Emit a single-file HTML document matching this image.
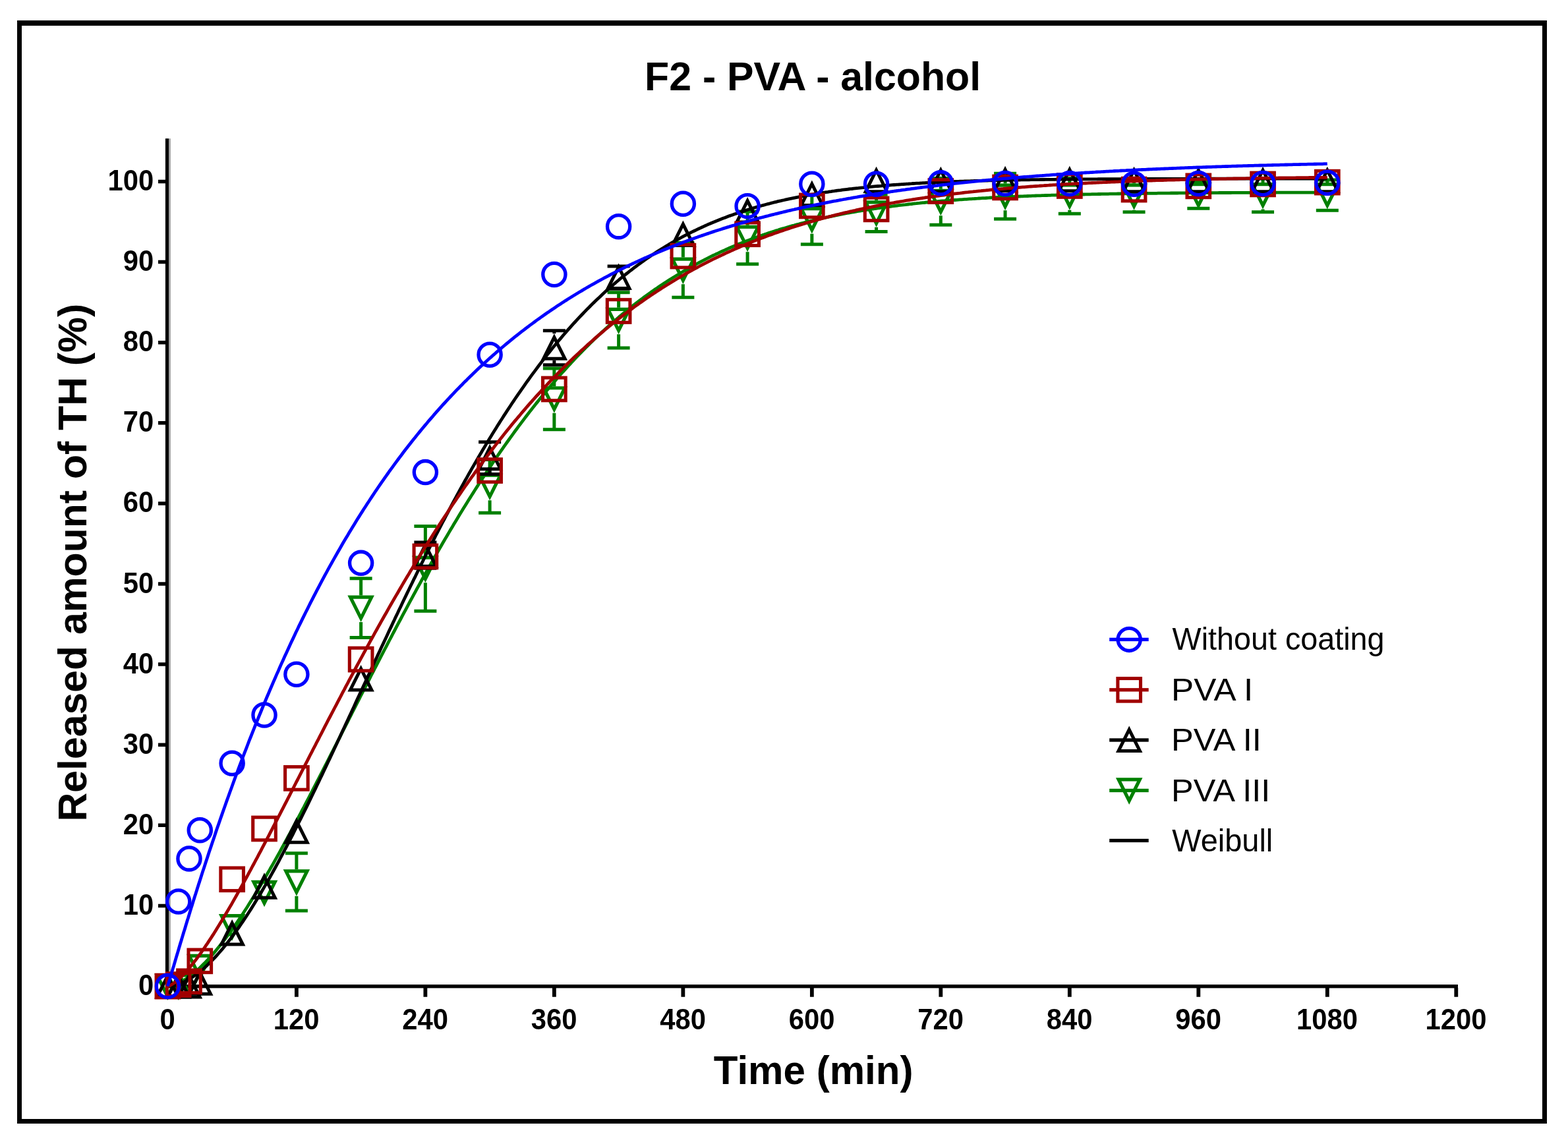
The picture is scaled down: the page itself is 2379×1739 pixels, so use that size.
<!DOCTYPE html>
<html><head><meta charset="utf-8"><title>F2 - PVA - alcohol</title>
<style>
html,body{margin:0;padding:0;background:#fff;overflow:hidden;}
svg{display:block;}
text{font-family:"Liberation Sans",Arial,sans-serif;fill:#000;}
</style></head><body>
<svg width="2379" height="1739" viewBox="0 0 2379 1739">
<rect x="0" y="0" width="2379" height="1739" fill="#fff"/>
<path d="M26 31H2347V1705H26ZM33 39V1698H2340V39Z" fill="#000" fill-rule="evenodd"/>
<text transform="translate(978.07 136.90) scale(0.9807 1)" font-size="62.00" font-weight="bold">F2 - PVA - alcohol</text>
<rect x="250.9" y="210.2" width="5.1" height="1289.2" fill="#000"/>
<rect x="256" y="210.2" width="2.8" height="1283.8" fill="#a0a0a0"/>
<rect x="250.9" y="1494.0" width="1961.1" height="5.4" fill="#000"/>
<path d="M240 1371.73H251V1377.23H240ZM240 1249.61H251V1255.11H240ZM240 1127.49H251V1132.99H240ZM240 1005.37H251V1010.87H240ZM240 883.25H251V888.75H240ZM240 761.13H251V766.63H240ZM240 639.01H251V644.51H240ZM240 516.89H251V522.39H240ZM240 394.77H251V400.27H240ZM240 272.65H251V278.15H240ZM446.99 1499V1512.7H452.79V1499ZM642.48 1499V1512.7H648.28V1499ZM837.97 1499V1512.7H843.77V1499ZM1033.46 1499V1512.7H1039.26V1499ZM1228.95 1499V1512.7H1234.75V1499ZM1424.44 1499V1512.7H1430.24V1499ZM1619.93 1499V1512.7H1625.73V1499ZM1815.42 1499V1512.7H1821.22V1499ZM2010.91 1499V1512.7H2016.71V1499ZM2206.40 1499V1512.7H2212.20V1499Z" fill="#000"/>
<text transform="translate(233.2 1510.10) scale(0.9610 1)" font-size="43.50" font-weight="bold" text-anchor="end">0</text>
<text transform="translate(233.2 1387.98) scale(0.9610 1)" font-size="43.50" font-weight="bold" text-anchor="end">10</text>
<text transform="translate(233.2 1265.86) scale(0.9610 1)" font-size="43.50" font-weight="bold" text-anchor="end">20</text>
<text transform="translate(233.2 1143.74) scale(0.9610 1)" font-size="43.50" font-weight="bold" text-anchor="end">30</text>
<text transform="translate(233.2 1021.62) scale(0.9610 1)" font-size="43.50" font-weight="bold" text-anchor="end">40</text>
<text transform="translate(233.2 899.50) scale(0.9610 1)" font-size="43.50" font-weight="bold" text-anchor="end">50</text>
<text transform="translate(233.2 777.38) scale(0.9610 1)" font-size="43.50" font-weight="bold" text-anchor="end">60</text>
<text transform="translate(233.2 655.26) scale(0.9610 1)" font-size="43.50" font-weight="bold" text-anchor="end">70</text>
<text transform="translate(233.2 533.14) scale(0.9610 1)" font-size="43.50" font-weight="bold" text-anchor="end">80</text>
<text transform="translate(233.2 411.02) scale(0.9610 1)" font-size="43.50" font-weight="bold" text-anchor="end">90</text>
<text transform="translate(233.2 288.90) scale(0.9610 1)" font-size="43.50" font-weight="bold" text-anchor="end">100</text>
<text transform="translate(254.10 1561.8) scale(0.9610 1)" font-size="43.50" font-weight="bold" text-anchor="middle">0</text>
<text transform="translate(449.59 1561.8) scale(0.9610 1)" font-size="43.50" font-weight="bold" text-anchor="middle">120</text>
<text transform="translate(645.08 1561.8) scale(0.9610 1)" font-size="43.50" font-weight="bold" text-anchor="middle">240</text>
<text transform="translate(840.57 1561.8) scale(0.9610 1)" font-size="43.50" font-weight="bold" text-anchor="middle">360</text>
<text transform="translate(1036.06 1561.8) scale(0.9610 1)" font-size="43.50" font-weight="bold" text-anchor="middle">480</text>
<text transform="translate(1231.55 1561.8) scale(0.9610 1)" font-size="43.50" font-weight="bold" text-anchor="middle">600</text>
<text transform="translate(1427.04 1561.8) scale(0.9610 1)" font-size="43.50" font-weight="bold" text-anchor="middle">720</text>
<text transform="translate(1622.53 1561.8) scale(0.9610 1)" font-size="43.50" font-weight="bold" text-anchor="middle">840</text>
<text transform="translate(1818.02 1561.8) scale(0.9610 1)" font-size="43.50" font-weight="bold" text-anchor="middle">960</text>
<text transform="translate(2013.51 1561.8) scale(0.9610 1)" font-size="43.50" font-weight="bold" text-anchor="middle">1080</text>
<text transform="translate(2209.00 1561.8) scale(0.9610 1)" font-size="43.50" font-weight="bold" text-anchor="middle">1200</text>
<text transform="translate(1082.81 1644.50) scale(0.9693 1)" font-size="62.00" font-weight="bold">Time (min)</text>
<text transform="translate(131.10 1246.55) rotate(-90) scale(0.9872 1)" font-size="61.50" font-weight="bold">Released amount of TH (%)</text>
<polyline points="254.4,1496.6 255.2,1496.6 256.0,1496.5 256.8,1496.4 257.7,1496.3 258.5,1496.1 259.3,1496.0 260.1,1495.8 260.9,1495.6 261.7,1495.4 262.5,1495.1 263.4,1494.9 264.2,1494.6 265.0,1494.3 265.8,1494.0 266.6,1493.7 267.4,1493.4 268.2,1493.1 269.1,1492.7 269.9,1492.3 270.7,1492.0 271.5,1491.6 272.3,1491.2 273.1,1490.8 273.9,1490.3 274.8,1489.9 275.6,1489.5 276.4,1489.0 277.2,1488.5 278.0,1488.1 278.8,1487.6 279.7,1487.1 280.5,1486.6 281.3,1486.0 282.1,1485.5 282.9,1485.0 283.7,1484.4 284.5,1483.9 285.4,1483.3 286.2,1482.7 287.0,1482.1 287.8,1481.5 288.6,1480.9 289.4,1480.3 290.2,1479.7 291.1,1479.0 291.9,1478.4 292.7,1477.7 293.5,1477.1 294.3,1476.4 295.1,1475.7 295.9,1475.0 296.8,1474.3 297.6,1473.6 298.4,1472.9 299.2,1472.2 300.0,1471.5 300.8,1470.7 301.6,1470.0 302.5,1469.2 303.3,1468.5 304.9,1466.9 307.3,1464.5 309.8,1462.1 312.2,1459.6 314.7,1457.0 317.1,1454.4 319.6,1451.7 322.0,1448.9 324.5,1446.1 326.9,1443.2 329.3,1440.3 331.8,1437.3 334.2,1434.2 336.7,1431.1 339.1,1428.0 341.6,1424.8 344.0,1421.5 346.5,1418.2 348.9,1414.9 351.4,1411.5 353.8,1408.0 356.2,1404.6 358.7,1401.0 361.1,1397.5 363.6,1393.8 366.0,1390.2 368.5,1386.5 370.9,1382.8 373.4,1379.0 375.8,1375.2 378.2,1371.3 380.7,1367.4 383.1,1363.5 385.6,1359.6 388.0,1355.6 390.5,1351.6 392.9,1347.5 395.4,1343.4 397.8,1339.3 400.2,1335.2 402.7,1331.0 405.1,1326.8 407.6,1322.6 410.0,1318.3 412.5,1314.1 414.9,1309.8 417.4,1305.4 419.8,1301.1 422.3,1296.7 424.7,1292.3 427.1,1287.9 429.6,1283.4 432.0,1279.0 434.5,1274.5 436.9,1270.0 439.4,1265.5 441.8,1260.9 444.3,1256.4 446.7,1251.8 449.1,1247.2 451.6,1242.6 454.0,1238.0 456.5,1233.4 458.9,1228.7 461.4,1224.1 463.8,1219.4 466.3,1214.7 468.7,1210.0 471.1,1205.3 473.6,1200.6 476.0,1195.9 478.5,1191.1 480.9,1186.4 483.4,1181.6 485.8,1176.9 488.3,1172.1 490.7,1167.3 493.1,1162.6 495.6,1157.8 498.0,1153.0 500.5,1148.2 502.9,1143.4 505.4,1138.6 507.8,1133.8 510.3,1129.0 512.7,1124.2 515.2,1119.4 517.6,1114.5 520.0,1109.7 522.5,1104.9 524.9,1100.1 527.4,1095.3 529.8,1090.5 532.3,1085.6 534.7,1080.8 537.2,1076.0 539.6,1071.2 542.0,1066.4 544.5,1061.6 546.9,1056.8 549.4,1052.0 551.8,1047.2 554.3,1042.4 556.7,1037.7 559.2,1032.9 561.6,1028.1 564.0,1023.3 566.5,1018.6 568.9,1013.8 571.4,1009.1 573.8,1004.4 576.3,999.6 578.7,994.9 581.2,990.2 583.6,985.5 586.1,980.8 588.5,976.1 590.9,971.5 593.4,966.8 595.8,962.1 598.3,957.5 600.7,952.9 603.2,948.2 605.6,943.6 608.1,939.0 610.5,934.4 612.9,929.9 615.4,925.3 617.8,920.8 620.3,916.2 622.7,911.7 625.2,907.2 627.6,902.7 630.1,898.2 632.5,893.7 634.9,889.3 637.4,884.8 639.8,880.4 642.3,876.0 644.7,871.6 647.2,867.2 649.6,862.9 652.1,858.5 654.5,854.2 657.0,849.9 659.4,845.6 661.8,841.3 664.3,837.0 666.7,832.8 669.2,828.5 671.6,824.3 674.1,820.1 676.5,815.9 679.0,811.8 681.4,807.6 683.8,803.5 686.3,799.4 688.7,795.3 691.2,791.2 693.6,787.2 696.1,783.1 698.5,779.1 701.0,775.1 703.4,771.1 705.8,767.2 708.3,763.2 710.7,759.3 713.2,755.4 715.6,751.5 718.1,747.6 720.5,743.8 723.0,739.9 725.4,736.1 727.8,732.3 730.3,728.6 732.7,724.8 735.2,721.1 737.6,717.4 740.1,713.7 742.5,710.0 745.0,706.4 747.4,702.7 749.9,699.1 752.3,695.5 754.7,692.0 757.2,688.4 759.6,684.9 762.1,681.4 764.5,677.9 767.0,674.4 769.4,671.0 771.9,667.5 774.3,664.1 776.7,660.8 779.2,657.4 781.6,654.0 784.1,650.7 786.5,647.4 789.0,644.1 791.4,640.9 793.9,637.6 796.3,634.4 798.7,631.2 801.2,628.0 803.6,624.9 806.1,621.7 808.5,618.6 811.0,615.5 813.4,612.4 815.9,609.4 818.3,606.3 820.8,603.3 823.2,600.3 825.6,597.4 828.1,594.4 830.5,591.5 833.0,588.6 835.4,585.7 837.9,582.8 840.3,580.0 842.8,577.1 845.2,574.3 847.6,571.5 850.1,568.7 852.5,566.0 855.0,563.3 857.4,560.6 859.9,557.9 862.3,555.2 864.8,552.5 867.2,549.9 869.6,547.3 872.1,544.7 874.5,542.1 877.0,539.6 879.4,537.1 881.9,534.5 884.3,532.1 886.8,529.6 889.2,527.1 891.6,524.7 894.1,522.3 896.5,519.9 899.0,517.5 901.4,515.1 903.9,512.8 906.3,510.5 908.8,508.2 911.2,505.9 913.7,503.6 916.1,501.4 918.5,499.2 921.0,497.0 923.4,494.8 925.9,492.6 928.3,490.4 930.8,488.3 933.2,486.2 935.7,484.1 938.1,482.0 940.5,479.9 943.0,477.9 945.4,475.9 947.9,473.8 950.3,471.8 952.8,469.9 955.2,467.9 957.7,466.0 960.1,464.0 962.5,462.1 965.0,460.2 967.4,458.4 969.9,456.5 972.3,454.7 974.8,452.8 977.2,451.0 979.7,449.2 982.1,447.5 984.6,445.7 987.0,444.0 989.4,442.2 991.9,440.5 994.3,438.8 996.8,437.2 999.2,435.5 1001.7,433.8 1004.1,432.2 1006.6,430.6 1009.0,429.0 1011.4,427.4 1013.9,425.8 1016.3,424.3 1018.8,422.7 1021.2,421.2 1023.7,419.7 1026.1,418.2 1028.6,416.7 1031.0,415.2 1033.4,413.8 1035.9,412.3 1038.3,410.9 1040.8,409.5 1043.2,408.1 1045.7,406.7 1048.1,405.3 1050.6,404.0 1053.0,402.6 1055.5,401.3 1057.9,400.0 1060.3,398.7 1062.8,397.4 1065.2,396.1 1067.7,394.9 1070.1,393.6 1072.6,392.4 1075.0,391.2 1077.5,389.9 1079.9,388.7 1082.3,387.5 1084.8,386.4 1087.2,385.2 1089.7,384.1 1092.1,382.9 1094.6,381.8 1097.0,380.7 1099.5,379.6 1101.9,378.5 1104.3,377.4 1106.8,376.3 1109.2,375.3 1111.7,374.2 1114.1,373.2 1116.6,372.2 1119.0,371.1 1121.5,370.1 1123.9,369.2 1126.3,368.2 1128.8,367.2 1131.2,366.2 1133.7,365.3 1136.1,364.4 1138.6,363.4 1141.0,362.5 1143.5,361.6 1145.9,360.7 1148.4,359.8 1150.8,358.9 1153.2,358.1 1155.7,357.2 1158.1,356.4 1160.6,355.5 1163.0,354.7 1165.5,353.9 1167.9,353.1 1170.4,352.3 1172.8,351.5 1175.2,350.7 1177.7,349.9 1180.1,349.2 1182.6,348.4 1185.0,347.6 1187.5,346.9 1189.9,346.2 1192.4,345.5 1194.8,344.7 1197.2,344.0 1199.7,343.3 1202.1,342.6 1204.6,342.0 1207.0,341.3 1209.5,340.6 1211.9,340.0 1214.4,339.3 1216.8,338.7 1219.3,338.0 1221.7,337.4 1224.1,336.8 1226.6,336.2 1229.0,335.6 1231.5,335.0 1233.9,334.4 1236.4,333.8 1238.8,333.2 1241.3,332.7 1243.7,332.1 1246.1,331.6 1248.6,331.0 1251.0,330.5 1253.5,329.9 1255.9,329.4 1258.4,328.9 1260.8,328.4 1263.3,327.9 1265.7,327.4 1268.1,326.9 1270.6,326.4 1273.0,325.9 1275.5,325.4 1277.9,324.9 1280.4,324.5 1282.8,324.0 1285.3,323.5 1287.7,323.1 1290.1,322.7 1292.6,322.2 1295.0,321.8 1297.5,321.4 1299.9,320.9 1302.4,320.5 1304.8,320.1 1307.3,319.7 1309.7,319.3 1312.2,318.9 1314.6,318.5 1317.0,318.1 1319.5,317.8 1321.9,317.4 1324.4,317.0 1326.8,316.7 1329.3,316.3 1331.7,315.9 1334.2,315.6 1336.6,315.2 1339.0,314.9 1341.5,314.6 1343.9,314.2 1346.4,313.9 1348.8,313.6 1351.3,313.3 1353.7,312.9 1356.2,312.6 1358.6,312.3 1361.0,312.0 1363.5,311.7 1365.9,311.4 1368.4,311.1 1370.8,310.8 1373.3,310.6 1375.7,310.3 1378.2,310.0 1380.6,309.7 1383.1,309.5 1385.5,309.2 1387.9,308.9 1390.4,308.7 1392.8,308.4 1395.3,308.2 1397.7,307.9 1400.2,307.7 1402.6,307.5 1405.1,307.2 1407.5,307.0 1409.9,306.8 1412.4,306.5 1414.8,306.3 1417.3,306.1 1419.7,305.9 1422.2,305.7 1424.6,305.4 1427.1,305.2 1429.5,305.0 1431.9,304.8 1434.4,304.6 1436.8,304.4 1439.3,304.2 1441.7,304.0 1444.2,303.9 1446.6,303.7 1449.1,303.5 1451.5,303.3 1454.0,303.1 1456.4,302.9 1458.8,302.8 1461.3,302.6 1463.7,302.4 1466.2,302.3 1468.6,302.1 1471.1,301.9 1473.5,301.8 1476.0,301.6 1478.4,301.5 1480.8,301.3 1483.3,301.2 1485.7,301.0 1488.2,300.9 1490.6,300.7 1493.1,300.6 1495.5,300.5 1498.0,300.3 1500.4,300.2 1502.8,300.0 1505.3,299.9 1507.7,299.8 1510.2,299.7 1512.6,299.5 1515.1,299.4 1517.5,299.3 1520.0,299.2 1522.4,299.1 1524.8,298.9 1527.3,298.8 1529.7,298.7 1532.2,298.6 1534.6,298.5 1537.1,298.4 1539.5,298.3 1542.0,298.2 1544.4,298.1 1546.9,298.0 1549.3,297.9 1551.7,297.8 1554.2,297.7 1556.6,297.6 1559.1,297.5 1561.5,297.4 1564.0,297.3 1566.4,297.2 1568.9,297.1 1571.3,297.0 1573.7,296.9 1576.2,296.9 1578.6,296.8 1581.1,296.7 1583.5,296.6 1586.0,296.5 1588.4,296.5 1590.9,296.4 1593.3,296.3 1595.7,296.2 1598.2,296.2 1600.6,296.1 1603.1,296.0 1605.5,295.9 1608.0,295.9 1610.4,295.8 1612.9,295.7 1615.3,295.7 1617.8,295.6 1620.2,295.5 1622.6,295.5 1625.1,295.4 1627.5,295.4 1630.0,295.3 1632.4,295.2 1634.9,295.2 1637.3,295.1 1639.8,295.1 1642.2,295.0 1644.6,295.0 1647.1,294.9 1649.5,294.9 1652.0,294.8 1654.4,294.8 1656.9,294.7 1659.3,294.7 1661.8,294.6 1664.2,294.6 1666.6,294.5 1669.1,294.5 1671.5,294.4 1674.0,294.4 1676.4,294.3 1678.9,294.3 1681.3,294.3 1683.8,294.2 1686.2,294.2 1688.6,294.1 1691.1,294.1 1693.5,294.1 1696.0,294.0 1698.4,294.0 1700.9,293.9 1703.3,293.9 1705.8,293.9 1708.2,293.8 1710.7,293.8 1713.1,293.8 1715.5,293.7 1718.0,293.7 1720.4,293.7 1722.9,293.6 1725.3,293.6 1727.8,293.6 1730.2,293.5 1732.7,293.5 1735.1,293.5 1737.5,293.4 1740.0,293.4 1742.4,293.4 1744.9,293.4 1747.3,293.3 1749.8,293.3 1752.2,293.3 1754.7,293.3 1757.1,293.2 1759.5,293.2 1762.0,293.2 1764.4,293.2 1766.9,293.1 1769.3,293.1 1771.8,293.1 1774.2,293.1 1776.7,293.0 1779.1,293.0 1781.6,293.0 1784.0,293.0 1786.4,293.0 1788.9,292.9 1791.3,292.9 1793.8,292.9 1796.2,292.9 1798.7,292.9 1801.1,292.9 1803.6,292.8 1806.0,292.8 1808.4,292.8 1810.9,292.8 1813.3,292.8 1815.8,292.7 1818.2,292.7 1820.7,292.7 1823.1,292.7 1825.6,292.7 1828.0,292.7 1830.4,292.7 1832.9,292.6 1835.3,292.6 1837.8,292.6 1840.2,292.6 1842.7,292.6 1845.1,292.6 1847.6,292.6 1850.0,292.5 1852.5,292.5 1854.9,292.5 1857.3,292.5 1859.8,292.5 1862.2,292.5 1864.7,292.5 1867.1,292.5 1869.6,292.4 1872.0,292.4 1874.5,292.4 1876.9,292.4 1879.3,292.4 1881.8,292.4 1884.2,292.4 1886.7,292.4 1889.1,292.4 1891.6,292.4 1894.0,292.3 1896.5,292.3 1898.9,292.3 1901.3,292.3 1903.8,292.3 1906.2,292.3 1908.7,292.3 1911.1,292.3 1913.6,292.3 1916.0,292.3 1918.5,292.3 1920.9,292.3 1923.3,292.2 1925.8,292.2 1928.2,292.2 1930.7,292.2 1933.1,292.2 1935.6,292.2 1938.0,292.2 1940.5,292.2 1942.9,292.2 1945.4,292.2 1947.8,292.2 1950.2,292.2 1952.7,292.2 1955.1,292.2 1957.6,292.2 1960.0,292.2 1962.5,292.1 1964.9,292.1 1967.4,292.1 1969.8,292.1 1972.2,292.1 1974.7,292.1 1977.1,292.1 1979.6,292.1 1982.0,292.1 1984.5,292.1 1986.9,292.1 1989.4,292.1 1991.8,292.1 1994.2,292.1 1996.7,292.1 1999.1,292.1 2001.6,292.1 2004.0,292.1 2006.5,292.1 2008.9,292.1 2011.4,292.1 2013.8,292.0" fill="none" stroke="#008000" stroke-width="4.8" stroke-linejoin="round"/>
<path d="M449.89 1294.86V1319.25M449.89 1359.85V1382.05M432.89 1294.86H466.89M432.89 1382.05H466.89" fill="none" stroke="#008000" stroke-width="5"/>
<path d="M547.63 877.70V903.44M547.63 944.04V967.58M530.63 877.70H564.63M530.63 967.58H564.63" fill="none" stroke="#008000" stroke-width="5"/>
<path d="M645.38 798.44V843.60M645.38 884.20V927.15M628.38 798.44H662.38M628.38 927.15H662.38" fill="none" stroke="#008000" stroke-width="5"/>
<path d="M743.12 697.45V718.67M743.12 759.27V778.29M726.12 697.45H760.12M726.12 778.29H760.12" fill="none" stroke="#008000" stroke-width="5"/>
<path d="M840.87 558.96V586.17M840.87 626.77V651.77M823.87 558.96H857.87M823.87 651.77H857.87" fill="none" stroke="#008000" stroke-width="5"/>
<path d="M938.61 443.80V466.73M938.61 507.33V528.07M921.61 443.80H955.61M921.61 528.07H955.61" fill="none" stroke="#008000" stroke-width="5"/>
<path d="M1036.36 368.21V390.53M1036.36 431.13V451.25M1019.36 368.21H1053.36M1019.36 451.25H1053.36" fill="none" stroke="#008000" stroke-width="5"/>
<path d="M1134.10 321.07V341.68M1134.10 382.28V400.70M1117.10 321.07H1151.10M1117.10 400.70H1151.10" fill="none" stroke="#008000" stroke-width="5"/>
<path d="M1231.85 295.79V314.08M1231.85 354.68V370.78M1214.85 295.79H1248.85M1214.85 370.78H1248.85" fill="none" stroke="#008000" stroke-width="5"/>
<path d="M1329.59 295.31V304.19M1329.59 344.79V351.48M1312.59 295.31H1346.59M1312.59 351.48H1346.59" fill="none" stroke="#008000" stroke-width="5"/>
<path d="M1427.34 270.52V286.73M1427.34 327.33V341.34M1410.34 270.52H1444.34M1410.34 341.34H1444.34" fill="none" stroke="#008000" stroke-width="5"/>
<path d="M1525.08 263.19V278.55M1525.08 319.15V332.31M1508.08 263.19H1542.08M1508.08 332.31H1542.08" fill="none" stroke="#008000" stroke-width="5"/>
<path d="M1622.83 270.52V278.18M1622.83 318.78V324.25M1605.83 270.52H1639.83M1605.83 324.25H1639.83" fill="none" stroke="#008000" stroke-width="5"/>
<path d="M1720.57 272.96V278.18M1720.57 318.78V321.81M1703.57 272.96H1737.57M1703.57 321.81H1737.57" fill="none" stroke="#008000" stroke-width="5"/>
<path d="M1818.32 276.01V276.96M1801.32 276.01H1835.32M1801.32 316.31H1835.32" fill="none" stroke="#008000" stroke-width="5"/>
<path d="M1916.06 270.52V276.96M1916.06 317.56V321.81M1899.06 270.52H1933.06M1899.06 321.81H1933.06" fill="none" stroke="#008000" stroke-width="5"/>
<path d="M2013.81 272.96V276.96M2013.81 317.56V319.36M1996.81 272.96H2030.81M1996.81 319.36H2030.81" fill="none" stroke="#008000" stroke-width="5"/>
<path d="M254.40 1518.00L234.10 1477.40L274.70 1477.40ZM266.29 1482.60L242.51 1482.60L254.40 1506.37Z" fill="#008000" fill-rule="evenodd"/>
<path d="M270.69 1518.00L250.39 1477.40L290.99 1477.40ZM282.58 1482.60L258.80 1482.60L270.69 1506.37Z" fill="#008000" fill-rule="evenodd"/>
<path d="M286.98 1514.34L266.68 1473.74L307.28 1473.74ZM298.87 1478.94L275.10 1478.94L286.98 1502.71Z" fill="#008000" fill-rule="evenodd"/>
<path d="M303.27 1488.45L282.97 1447.85L323.57 1447.85ZM315.16 1453.05L291.39 1453.05L303.27 1476.82Z" fill="#008000" fill-rule="evenodd"/>
<path d="M352.14 1427.63L331.84 1387.03L372.44 1387.03ZM364.03 1392.23L340.26 1392.23L352.14 1416.00Z" fill="#008000" fill-rule="evenodd"/>
<path d="M401.02 1376.34L380.72 1335.74L421.32 1335.74ZM412.90 1340.94L389.13 1340.94L401.02 1364.71Z" fill="#008000" fill-rule="evenodd"/>
<path d="M449.89 1359.85L429.59 1319.25L470.19 1319.25ZM461.78 1324.45L438.00 1324.45L449.89 1348.23Z" fill="#008000" fill-rule="evenodd"/>
<path d="M547.63 944.04L527.33 903.44L567.93 903.44ZM559.52 908.64L535.75 908.64L547.63 932.41Z" fill="#008000" fill-rule="evenodd"/>
<path d="M645.38 884.20L625.08 843.60L665.68 843.60ZM657.27 848.80L633.49 848.80L645.38 872.57Z" fill="#008000" fill-rule="evenodd"/>
<path d="M743.12 759.27L722.82 718.67L763.42 718.67ZM755.01 723.87L731.24 723.87L743.12 747.64Z" fill="#008000" fill-rule="evenodd"/>
<path d="M840.87 626.77L820.57 586.17L861.17 586.17ZM852.76 591.37L828.98 591.37L840.87 615.14Z" fill="#008000" fill-rule="evenodd"/>
<path d="M938.61 507.33L918.31 466.73L958.91 466.73ZM950.50 471.93L926.73 471.93L938.61 495.71Z" fill="#008000" fill-rule="evenodd"/>
<path d="M1036.36 431.13L1016.06 390.53L1056.66 390.53ZM1048.24 395.73L1024.47 395.73L1036.36 419.50Z" fill="#008000" fill-rule="evenodd"/>
<path d="M1134.10 382.28L1113.80 341.68L1154.40 341.68ZM1145.99 346.88L1122.22 346.88L1134.10 370.66Z" fill="#008000" fill-rule="evenodd"/>
<path d="M1231.85 354.68L1211.55 314.08L1252.15 314.08ZM1243.73 319.28L1219.96 319.28L1231.85 343.06Z" fill="#008000" fill-rule="evenodd"/>
<path d="M1329.59 344.79L1309.29 304.19L1349.89 304.19ZM1341.48 309.39L1317.71 309.39L1329.59 333.17Z" fill="#008000" fill-rule="evenodd"/>
<path d="M1427.34 327.33L1407.04 286.73L1447.64 286.73ZM1439.22 291.93L1415.45 291.93L1427.34 315.70Z" fill="#008000" fill-rule="evenodd"/>
<path d="M1525.08 319.15L1504.78 278.55L1545.38 278.55ZM1536.97 283.75L1513.20 283.75L1525.08 307.52Z" fill="#008000" fill-rule="evenodd"/>
<path d="M1622.83 318.78L1602.53 278.18L1643.13 278.18ZM1634.71 283.38L1610.94 283.38L1622.83 307.15Z" fill="#008000" fill-rule="evenodd"/>
<path d="M1720.57 318.78L1700.27 278.18L1740.87 278.18ZM1732.46 283.38L1708.69 283.38L1720.57 307.15Z" fill="#008000" fill-rule="evenodd"/>
<path d="M1818.32 317.56L1798.02 276.96L1838.62 276.96ZM1830.20 282.16L1806.43 282.16L1818.32 305.93Z" fill="#008000" fill-rule="evenodd"/>
<path d="M1916.06 317.56L1895.76 276.96L1936.36 276.96ZM1927.95 282.16L1904.18 282.16L1916.06 305.93Z" fill="#008000" fill-rule="evenodd"/>
<path d="M2013.81 317.56L1993.51 276.96L2034.11 276.96ZM2025.69 282.16L2001.92 282.16L2013.81 305.93Z" fill="#008000" fill-rule="evenodd"/>
<polyline points="254.4,1496.6 255.2,1496.6 256.0,1496.5 256.8,1496.5 257.7,1496.4 258.5,1496.3 259.3,1496.2 260.1,1496.1 260.9,1496.0 261.7,1495.9 262.5,1495.7 263.4,1495.5 264.2,1495.3 265.0,1495.2 265.8,1495.0 266.6,1494.7 267.4,1494.5 268.2,1494.3 269.1,1494.0 269.9,1493.8 270.7,1493.5 271.5,1493.2 272.3,1492.9 273.1,1492.6 273.9,1492.3 274.8,1491.9 275.6,1491.6 276.4,1491.3 277.2,1490.9 278.0,1490.5 278.8,1490.1 279.7,1489.8 280.5,1489.4 281.3,1488.9 282.1,1488.5 282.9,1488.1 283.7,1487.7 284.5,1487.2 285.4,1486.8 286.2,1486.3 287.0,1485.8 287.8,1485.3 288.6,1484.8 289.4,1484.3 290.2,1483.8 291.1,1483.3 291.9,1482.8 292.7,1482.2 293.5,1481.7 294.3,1481.1 295.1,1480.5 295.9,1480.0 296.8,1479.4 297.6,1478.8 298.4,1478.2 299.2,1477.6 300.0,1477.0 300.8,1476.3 301.6,1475.7 302.5,1475.0 303.3,1474.4 304.9,1473.1 307.3,1471.0 309.8,1468.9 312.2,1466.7 314.7,1464.4 317.1,1462.0 319.6,1459.6 322.0,1457.1 324.5,1454.6 326.9,1452.0 329.3,1449.3 331.8,1446.5 334.2,1443.7 336.7,1440.9 339.1,1437.9 341.6,1435.0 344.0,1431.9 346.5,1428.8 348.9,1425.6 351.4,1422.4 353.8,1419.1 356.2,1415.8 358.7,1412.4 361.1,1409.0 363.6,1405.5 366.0,1401.9 368.5,1398.3 370.9,1394.7 373.4,1391.0 375.8,1387.3 378.2,1383.5 380.7,1379.6 383.1,1375.7 385.6,1371.8 388.0,1367.8 390.5,1363.8 392.9,1359.8 395.4,1355.7 397.8,1351.5 400.2,1347.4 402.7,1343.1 405.1,1338.9 407.6,1334.6 410.0,1330.3 412.5,1325.9 414.9,1321.5 417.4,1317.0 419.8,1312.6 422.3,1308.1 424.7,1303.5 427.1,1298.9 429.6,1294.3 432.0,1289.7 434.5,1285.0 436.9,1280.4 439.4,1275.6 441.8,1270.9 444.3,1266.1 446.7,1261.3 449.1,1256.5 451.6,1251.6 454.0,1246.8 456.5,1241.9 458.9,1237.0 461.4,1232.0 463.8,1227.1 466.3,1222.1 468.7,1217.1 471.1,1212.1 473.6,1207.0 476.0,1202.0 478.5,1196.9 480.9,1191.8 483.4,1186.7 485.8,1181.6 488.3,1176.5 490.7,1171.3 493.1,1166.2 495.6,1161.0 498.0,1155.8 500.5,1150.6 502.9,1145.4 505.4,1140.2 507.8,1135.0 510.3,1129.8 512.7,1124.5 515.2,1119.3 517.6,1114.0 520.0,1108.8 522.5,1103.5 524.9,1098.3 527.4,1093.0 529.8,1087.7 532.3,1082.4 534.7,1077.2 537.2,1071.9 539.6,1066.6 542.0,1061.3 544.5,1056.0 546.9,1050.8 549.4,1045.5 551.8,1040.2 554.3,1034.9 556.7,1029.6 559.2,1024.4 561.6,1019.1 564.0,1013.8 566.5,1008.6 568.9,1003.3 571.4,998.1 573.8,992.8 576.3,987.6 578.7,982.3 581.2,977.1 583.6,971.9 586.1,966.7 588.5,961.5 590.9,956.3 593.4,951.1 595.8,945.9 598.3,940.8 600.7,935.6 603.2,930.5 605.6,925.3 608.1,920.2 610.5,915.1 612.9,910.0 615.4,904.9 617.8,899.9 620.3,894.8 622.7,889.8 625.2,884.8 627.6,879.7 630.1,874.8 632.5,869.8 634.9,864.8 637.4,859.9 639.8,854.9 642.3,850.0 644.7,845.1 647.2,840.2 649.6,835.4 652.1,830.5 654.5,825.7 657.0,820.9 659.4,816.1 661.8,811.3 664.3,806.6 666.7,801.9 669.2,797.2 671.6,792.5 674.1,787.8 676.5,783.1 679.0,778.5 681.4,773.9 683.8,769.3 686.3,764.7 688.7,760.2 691.2,755.7 693.6,751.2 696.1,746.7 698.5,742.2 701.0,737.8 703.4,733.4 705.8,729.0 708.3,724.7 710.7,720.3 713.2,716.0 715.6,711.7 718.1,707.4 720.5,703.2 723.0,699.0 725.4,694.8 727.8,690.6 730.3,686.4 732.7,682.3 735.2,678.2 737.6,674.1 740.1,670.1 742.5,666.0 745.0,662.0 747.4,658.1 749.9,654.1 752.3,650.2 754.7,646.3 757.2,642.4 759.6,638.5 762.1,634.7 764.5,630.9 767.0,627.1 769.4,623.4 771.9,619.7 774.3,616.0 776.7,612.3 779.2,608.6 781.6,605.0 784.1,601.4 786.5,597.9 789.0,594.3 791.4,590.8 793.9,587.3 796.3,583.8 798.7,580.4 801.2,577.0 803.6,573.6 806.1,570.2 808.5,566.9 811.0,563.6 813.4,560.3 815.9,557.0 818.3,553.8 820.8,550.6 823.2,547.4 825.6,544.2 828.1,541.1 830.5,538.0 833.0,534.9 835.4,531.9 837.9,528.8 840.3,525.8 842.8,522.8 845.2,519.9 847.6,517.0 850.1,514.1 852.5,511.2 855.0,508.3 857.4,505.5 859.9,502.7 862.3,499.9 864.8,497.1 867.2,494.4 869.6,491.7 872.1,489.0 874.5,486.4 877.0,483.7 879.4,481.1 881.9,478.5 884.3,476.0 886.8,473.4 889.2,470.9 891.6,468.4 894.1,466.0 896.5,463.5 899.0,461.1 901.4,458.7 903.9,456.3 906.3,454.0 908.8,451.7 911.2,449.4 913.7,447.1 916.1,444.8 918.5,442.6 921.0,440.4 923.4,438.2 925.9,436.0 928.3,433.9 930.8,431.7 933.2,429.6 935.7,427.5 938.1,425.5 940.5,423.4 943.0,421.4 945.4,419.4 947.9,417.4 950.3,415.5 952.8,413.6 955.2,411.6 957.7,409.8 960.1,407.9 962.5,406.0 965.0,404.2 967.4,402.4 969.9,400.6 972.3,398.8 974.8,397.1 977.2,395.3 979.7,393.6 982.1,391.9 984.6,390.2 987.0,388.6 989.4,386.9 991.9,385.3 994.3,383.7 996.8,382.1 999.2,380.6 1001.7,379.0 1004.1,377.5 1006.6,376.0 1009.0,374.5 1011.4,373.0 1013.9,371.6 1016.3,370.1 1018.8,368.7 1021.2,367.3 1023.7,365.9 1026.1,364.5 1028.6,363.2 1031.0,361.8 1033.4,360.5 1035.9,359.2 1038.3,357.9 1040.8,356.6 1043.2,355.4 1045.7,354.1 1048.1,352.9 1050.6,351.7 1053.0,350.5 1055.5,349.3 1057.9,348.1 1060.3,347.0 1062.8,345.8 1065.2,344.7 1067.7,343.6 1070.1,342.5 1072.6,341.4 1075.0,340.3 1077.5,339.3 1079.9,338.2 1082.3,337.2 1084.8,336.2 1087.2,335.2 1089.7,334.2 1092.1,333.2 1094.6,332.3 1097.0,331.3 1099.5,330.4 1101.9,329.5 1104.3,328.5 1106.8,327.6 1109.2,326.8 1111.7,325.9 1114.1,325.0 1116.6,324.2 1119.0,323.3 1121.5,322.5 1123.9,321.7 1126.3,320.9 1128.8,320.1 1131.2,319.3 1133.7,318.5 1136.1,317.8 1138.6,317.0 1141.0,316.3 1143.5,315.5 1145.9,314.8 1148.4,314.1 1150.8,313.4 1153.2,312.7 1155.7,312.0 1158.1,311.4 1160.6,310.7 1163.0,310.0 1165.5,309.4 1167.9,308.8 1170.4,308.1 1172.8,307.5 1175.2,306.9 1177.7,306.3 1180.1,305.7 1182.6,305.1 1185.0,304.6 1187.5,304.0 1189.9,303.5 1192.4,302.9 1194.8,302.4 1197.2,301.8 1199.7,301.3 1202.1,300.8 1204.6,300.3 1207.0,299.8 1209.5,299.3 1211.9,298.8 1214.4,298.3 1216.8,297.9 1219.3,297.4 1221.7,297.0 1224.1,296.5 1226.6,296.1 1229.0,295.6 1231.5,295.2 1233.9,294.8 1236.4,294.4 1238.8,294.0 1241.3,293.6 1243.7,293.2 1246.1,292.8 1248.6,292.4 1251.0,292.0 1253.5,291.6 1255.9,291.3 1258.4,290.9 1260.8,290.6 1263.3,290.2 1265.7,289.9 1268.1,289.5 1270.6,289.2 1273.0,288.9 1275.5,288.6 1277.9,288.2 1280.4,287.9 1282.8,287.6 1285.3,287.3 1287.7,287.0 1290.1,286.7 1292.6,286.5 1295.0,286.2 1297.5,285.9 1299.9,285.6 1302.4,285.4 1304.8,285.1 1307.3,284.8 1309.7,284.6 1312.2,284.3 1314.6,284.1 1317.0,283.8 1319.5,283.6 1321.9,283.4 1324.4,283.1 1326.8,282.9 1329.3,282.7 1331.7,282.5 1334.2,282.3 1336.6,282.1 1339.0,281.8 1341.5,281.6 1343.9,281.4 1346.4,281.2 1348.8,281.1 1351.3,280.9 1353.7,280.7 1356.2,280.5 1358.6,280.3 1361.0,280.1 1363.5,280.0 1365.9,279.8 1368.4,279.6 1370.8,279.5 1373.3,279.3 1375.7,279.1 1378.2,279.0 1380.6,278.8 1383.1,278.7 1385.5,278.5 1387.9,278.4 1390.4,278.2 1392.8,278.1 1395.3,278.0 1397.7,277.8 1400.2,277.7 1402.6,277.6 1405.1,277.4 1407.5,277.3 1409.9,277.2 1412.4,277.1 1414.8,277.0 1417.3,276.8 1419.7,276.7 1422.2,276.6 1424.6,276.5 1427.1,276.4 1429.5,276.3 1431.9,276.2 1434.4,276.1 1436.8,276.0 1439.3,275.9 1441.7,275.8 1444.2,275.7 1446.6,275.6 1449.1,275.5 1451.5,275.4 1454.0,275.3 1456.4,275.2 1458.8,275.2 1461.3,275.1 1463.7,275.0 1466.2,274.9 1468.6,274.8 1471.1,274.8 1473.5,274.7 1476.0,274.6 1478.4,274.5 1480.8,274.5 1483.3,274.4 1485.7,274.3 1488.2,274.3 1490.6,274.2 1493.1,274.1 1495.5,274.1 1498.0,274.0 1500.4,273.9 1502.8,273.9 1505.3,273.8 1507.7,273.8 1510.2,273.7 1512.6,273.7 1515.1,273.6 1517.5,273.5 1520.0,273.5 1522.4,273.4 1524.8,273.4 1527.3,273.3 1529.7,273.3 1532.2,273.3 1534.6,273.2 1537.1,273.2 1539.5,273.1 1542.0,273.1 1544.4,273.0 1546.9,273.0 1549.3,272.9 1551.7,272.9 1554.2,272.9 1556.6,272.8 1559.1,272.8 1561.5,272.8 1564.0,272.7 1566.4,272.7 1568.9,272.7 1571.3,272.6 1573.7,272.6 1576.2,272.6 1578.6,272.5 1581.1,272.5 1583.5,272.5 1586.0,272.4 1588.4,272.4 1590.9,272.4 1593.3,272.3 1595.7,272.3 1598.2,272.3 1600.6,272.3 1603.1,272.2 1605.5,272.2 1608.0,272.2 1610.4,272.2 1612.9,272.1 1615.3,272.1 1617.8,272.1 1620.2,272.1 1622.6,272.1 1625.1,272.0 1627.5,272.0 1630.0,272.0 1632.4,272.0 1634.9,272.0 1637.3,271.9 1639.8,271.9 1642.2,271.9 1644.6,271.9 1647.1,271.9 1649.5,271.8 1652.0,271.8 1654.4,271.8 1656.9,271.8 1659.3,271.8 1661.8,271.8 1664.2,271.8 1666.6,271.7 1669.1,271.7 1671.5,271.7 1674.0,271.7 1676.4,271.7 1678.9,271.7 1681.3,271.7 1683.8,271.6 1686.2,271.6 1688.6,271.6 1691.1,271.6 1693.5,271.6 1696.0,271.6 1698.4,271.6 1700.9,271.6 1703.3,271.6 1705.8,271.5 1708.2,271.5 1710.7,271.5 1713.1,271.5 1715.5,271.5 1718.0,271.5 1720.4,271.5 1722.9,271.5 1725.3,271.5 1727.8,271.5 1730.2,271.5 1732.7,271.4 1735.1,271.4 1737.5,271.4 1740.0,271.4 1742.4,271.4 1744.9,271.4 1747.3,271.4 1749.8,271.4 1752.2,271.4 1754.7,271.4 1757.1,271.4 1759.5,271.4 1762.0,271.4 1764.4,271.4 1766.9,271.4 1769.3,271.3 1771.8,271.3 1774.2,271.3 1776.7,271.3 1779.1,271.3 1781.6,271.3 1784.0,271.3 1786.4,271.3 1788.9,271.3 1791.3,271.3 1793.8,271.3 1796.2,271.3 1798.7,271.3 1801.1,271.3 1803.6,271.3 1806.0,271.3 1808.4,271.3 1810.9,271.3 1813.3,271.3 1815.8,271.3 1818.2,271.3 1820.7,271.3 1823.1,271.3 1825.6,271.2 1828.0,271.2 1830.4,271.2 1832.9,271.2 1835.3,271.2 1837.8,271.2 1840.2,271.2 1842.7,271.2 1845.1,271.2 1847.6,271.2 1850.0,271.2 1852.5,271.2 1854.9,271.2 1857.3,271.2 1859.8,271.2 1862.2,271.2 1864.7,271.2 1867.1,271.2 1869.6,271.2 1872.0,271.2 1874.5,271.2 1876.9,271.2 1879.3,271.2 1881.8,271.2 1884.2,271.2 1886.7,271.2 1889.1,271.2 1891.6,271.2 1894.0,271.2 1896.5,271.2 1898.9,271.2 1901.3,271.2 1903.8,271.2 1906.2,271.2 1908.7,271.2 1911.1,271.2 1913.6,271.2 1916.0,271.2 1918.5,271.2 1920.9,271.2 1923.3,271.2 1925.8,271.2 1928.2,271.2 1930.7,271.2 1933.1,271.2 1935.6,271.2 1938.0,271.2 1940.5,271.2 1942.9,271.2 1945.4,271.2 1947.8,271.2 1950.2,271.2 1952.7,271.2 1955.1,271.2 1957.6,271.2 1960.0,271.2 1962.5,271.2 1964.9,271.2 1967.4,271.2 1969.8,271.2 1972.2,271.2 1974.7,271.1 1977.1,271.1 1979.6,271.1 1982.0,271.1 1984.5,271.1 1986.9,271.1 1989.4,271.1 1991.8,271.1 1994.2,271.1 1996.7,271.1 1999.1,271.1 2001.6,271.1 2004.0,271.1 2006.5,271.1 2008.9,271.1 2011.4,271.1 2013.8,271.1" fill="none" stroke="#000000" stroke-width="4.8" stroke-linejoin="round"/>
<path d="M645.38 861.65V862.19M628.38 823.11H662.38M628.38 862.19H662.38" fill="none" stroke="#000000" stroke-width="5"/>
<path d="M743.12 670.70V673.63M743.12 714.13V719.55M726.12 670.70H760.12M726.12 719.55H760.12" fill="none" stroke="#000000" stroke-width="5"/>
<path d="M840.87 501.69V506.20M840.87 546.70V553.71M823.87 501.69H857.87M823.87 553.71H857.87" fill="none" stroke="#000000" stroke-width="5"/>
<path d="M921.61 403.99H955.61M921.61 438.19H955.61" fill="none" stroke="#000000" stroke-width="5"/>
<path d="M254.40 1475.10L274.65 1515.60L234.15 1515.60ZM242.24 1510.60L266.56 1510.60L254.40 1486.28Z" fill="#000000" fill-rule="evenodd"/>
<path d="M270.69 1475.10L290.94 1515.60L250.44 1515.60ZM258.53 1510.60L282.85 1510.60L270.69 1486.28Z" fill="#000000" fill-rule="evenodd"/>
<path d="M286.98 1475.10L307.23 1515.60L266.73 1515.60ZM274.82 1510.60L299.14 1510.60L286.98 1486.28Z" fill="#000000" fill-rule="evenodd"/>
<path d="M303.27 1470.22L323.52 1510.72L283.02 1510.72ZM291.11 1505.72L315.43 1505.72L303.27 1481.40Z" fill="#000000" fill-rule="evenodd"/>
<path d="M352.14 1394.99L372.39 1435.49L331.89 1435.49ZM339.98 1430.49L364.30 1430.49L352.14 1406.17Z" fill="#000000" fill-rule="evenodd"/>
<path d="M401.02 1324.16L421.27 1364.66L380.77 1364.66ZM388.86 1359.66L413.18 1359.66L401.02 1335.34Z" fill="#000000" fill-rule="evenodd"/>
<path d="M449.89 1240.26L470.14 1280.76L429.64 1280.76ZM437.73 1275.76L462.05 1275.76L449.89 1251.44Z" fill="#000000" fill-rule="evenodd"/>
<path d="M547.63 1009.09L567.88 1049.59L527.38 1049.59ZM535.47 1044.59L559.79 1044.59L547.63 1020.27Z" fill="#000000" fill-rule="evenodd"/>
<path d="M645.38 821.15L665.63 861.65L625.13 861.65ZM633.22 856.65L657.54 856.65L645.38 832.33Z" fill="#000000" fill-rule="evenodd"/>
<path d="M743.12 673.63L763.37 714.13L722.87 714.13ZM730.96 709.13L755.28 709.13L743.12 684.81Z" fill="#000000" fill-rule="evenodd"/>
<path d="M840.87 506.20L861.12 546.70L820.62 546.70ZM828.71 541.70L853.03 541.70L840.87 517.38Z" fill="#000000" fill-rule="evenodd"/>
<path d="M938.61 399.59L958.86 440.09L918.36 440.09ZM926.45 435.09L950.77 435.09L938.61 410.77Z" fill="#000000" fill-rule="evenodd"/>
<path d="M1036.36 334.50L1056.61 375.00L1016.11 375.00ZM1024.20 370.00L1048.52 370.00L1036.36 345.68Z" fill="#000000" fill-rule="evenodd"/>
<path d="M1134.10 299.08L1154.35 339.58L1113.85 339.58ZM1121.94 334.58L1146.26 334.58L1134.10 310.26Z" fill="#000000" fill-rule="evenodd"/>
<path d="M1231.85 273.44L1252.10 313.94L1211.60 313.94ZM1219.69 308.94L1244.01 308.94L1231.85 284.62Z" fill="#000000" fill-rule="evenodd"/>
<path d="M1329.59 252.68L1349.84 293.18L1309.34 293.18ZM1317.43 288.18L1341.75 288.18L1329.59 263.86Z" fill="#000000" fill-rule="evenodd"/>
<path d="M1427.34 252.68L1447.59 293.18L1407.09 293.18ZM1415.18 288.18L1439.50 288.18L1427.34 263.86Z" fill="#000000" fill-rule="evenodd"/>
<path d="M1525.08 251.82L1545.33 292.32L1504.83 292.32ZM1512.92 287.32L1537.24 287.32L1525.08 263.00Z" fill="#000000" fill-rule="evenodd"/>
<path d="M1622.83 251.82L1643.08 292.32L1602.58 292.32ZM1610.67 287.32L1634.99 287.32L1622.83 263.00Z" fill="#000000" fill-rule="evenodd"/>
<path d="M1720.57 252.68L1740.82 293.18L1700.32 293.18ZM1708.41 288.18L1732.73 288.18L1720.57 263.86Z" fill="#000000" fill-rule="evenodd"/>
<path d="M1818.32 252.68L1838.57 293.18L1798.07 293.18ZM1806.16 288.18L1830.48 288.18L1818.32 263.86Z" fill="#000000" fill-rule="evenodd"/>
<path d="M1916.06 252.68L1936.31 293.18L1895.81 293.18ZM1903.90 288.18L1928.22 288.18L1916.06 263.86Z" fill="#000000" fill-rule="evenodd"/>
<path d="M2013.81 252.68L2034.06 293.18L1993.56 293.18ZM2001.65 288.18L2025.97 288.18L2013.81 263.86Z" fill="#000000" fill-rule="evenodd"/>
<polyline points="254.4,1496.6 255.2,1496.5 256.0,1496.2 256.8,1495.9 257.7,1495.6 258.5,1495.2 259.3,1494.7 260.1,1494.3 260.9,1493.8 261.7,1493.3 262.5,1492.8 263.4,1492.2 264.2,1491.6 265.0,1491.0 265.8,1490.4 266.6,1489.8 267.4,1489.1 268.2,1488.4 269.1,1487.7 269.9,1487.0 270.7,1486.3 271.5,1485.6 272.3,1484.8 273.1,1484.1 273.9,1483.3 274.8,1482.5 275.6,1481.7 276.4,1480.9 277.2,1480.0 278.0,1479.2 278.8,1478.3 279.7,1477.5 280.5,1476.6 281.3,1475.7 282.1,1474.8 282.9,1473.9 283.7,1472.9 284.5,1472.0 285.4,1471.1 286.2,1470.1 287.0,1469.2 287.8,1468.2 288.6,1467.2 289.4,1466.2 290.2,1465.2 291.1,1464.2 291.9,1463.2 292.7,1462.2 293.5,1461.1 294.3,1460.1 295.1,1459.0 295.9,1458.0 296.8,1456.9 297.6,1455.8 298.4,1454.7 299.2,1453.7 300.0,1452.6 300.8,1451.4 301.6,1450.3 302.5,1449.2 303.3,1448.1 304.9,1445.8 307.3,1442.4 309.8,1438.8 312.2,1435.2 314.7,1431.6 317.1,1427.9 319.6,1424.2 322.0,1420.4 324.5,1416.6 326.9,1412.7 329.3,1408.8 331.8,1404.8 334.2,1400.8 336.7,1396.8 339.1,1392.7 341.6,1388.6 344.0,1384.5 346.5,1380.3 348.9,1376.1 351.4,1371.9 353.8,1367.6 356.2,1363.3 358.7,1359.0 361.1,1354.7 363.6,1350.3 366.0,1345.9 368.5,1341.5 370.9,1337.0 373.4,1332.6 375.8,1328.1 378.2,1323.6 380.7,1319.1 383.1,1314.5 385.6,1310.0 388.0,1305.4 390.5,1300.8 392.9,1296.2 395.4,1291.6 397.8,1286.9 400.2,1282.3 402.7,1277.6 405.1,1273.0 407.6,1268.3 410.0,1263.6 412.5,1258.9 414.9,1254.2 417.4,1249.5 419.8,1244.8 422.3,1240.0 424.7,1235.3 427.1,1230.6 429.6,1225.8 432.0,1221.1 434.5,1216.3 436.9,1211.6 439.4,1206.8 441.8,1202.0 444.3,1197.3 446.7,1192.5 449.1,1187.7 451.6,1183.0 454.0,1178.2 456.5,1173.4 458.9,1168.7 461.4,1163.9 463.8,1159.1 466.3,1154.4 468.7,1149.6 471.1,1144.8 473.6,1140.1 476.0,1135.3 478.5,1130.6 480.9,1125.8 483.4,1121.1 485.8,1116.3 488.3,1111.6 490.7,1106.9 493.1,1102.2 495.6,1097.4 498.0,1092.7 500.5,1088.0 502.9,1083.3 505.4,1078.7 507.8,1074.0 510.3,1069.3 512.7,1064.6 515.2,1060.0 517.6,1055.3 520.0,1050.7 522.5,1046.1 524.9,1041.4 527.4,1036.8 529.8,1032.2 532.3,1027.6 534.7,1023.1 537.2,1018.5 539.6,1013.9 542.0,1009.4 544.5,1004.9 546.9,1000.3 549.4,995.8 551.8,991.3 554.3,986.8 556.7,982.4 559.2,977.9 561.6,973.4 564.0,969.0 566.5,964.6 568.9,960.2 571.4,955.8 573.8,951.4 576.3,947.0 578.7,942.7 581.2,938.3 583.6,934.0 586.1,929.7 588.5,925.4 590.9,921.1 593.4,916.8 595.8,912.6 598.3,908.3 600.7,904.1 603.2,899.9 605.6,895.7 608.1,891.5 610.5,887.4 612.9,883.2 615.4,879.1 617.8,875.0 620.3,870.9 622.7,866.8 625.2,862.7 627.6,858.7 630.1,854.6 632.5,850.6 634.9,846.6 637.4,842.6 639.8,838.7 642.3,834.7 644.7,830.8 647.2,826.8 649.6,822.9 652.1,819.1 654.5,815.2 657.0,811.3 659.4,807.5 661.8,803.7 664.3,799.9 666.7,796.1 669.2,792.4 671.6,788.6 674.1,784.9 676.5,781.2 679.0,777.5 681.4,773.8 683.8,770.1 686.3,766.5 688.7,762.9 691.2,759.3 693.6,755.7 696.1,752.1 698.5,748.6 701.0,745.0 703.4,741.5 705.8,738.0 708.3,734.5 710.7,731.1 713.2,727.6 715.6,724.2 718.1,720.8 720.5,717.4 723.0,714.0 725.4,710.7 727.8,707.3 730.3,704.0 732.7,700.7 735.2,697.4 737.6,694.2 740.1,690.9 742.5,687.7 745.0,684.5 747.4,681.3 749.9,678.1 752.3,674.9 754.7,671.8 757.2,668.7 759.6,665.6 762.1,662.5 764.5,659.4 767.0,656.3 769.4,653.3 771.9,650.3 774.3,647.3 776.7,644.3 779.2,641.3 781.6,638.4 784.1,635.5 786.5,632.6 789.0,629.7 791.4,626.8 793.9,623.9 796.3,621.1 798.7,618.3 801.2,615.4 803.6,612.7 806.1,609.9 808.5,607.1 811.0,604.4 813.4,601.7 815.9,599.0 818.3,596.3 820.8,593.6 823.2,590.9 825.6,588.3 828.1,585.7 830.5,583.1 833.0,580.5 835.4,577.9 837.9,575.4 840.3,572.8 842.8,570.3 845.2,567.8 847.6,565.3 850.1,562.8 852.5,560.4 855.0,557.9 857.4,555.5 859.9,553.1 862.3,550.7 864.8,548.3 867.2,546.0 869.6,543.6 872.1,541.3 874.5,539.0 877.0,536.7 879.4,534.4 881.9,532.1 884.3,529.9 886.8,527.7 889.2,525.4 891.6,523.2 894.1,521.1 896.5,518.9 899.0,516.7 901.4,514.6 903.9,512.4 906.3,510.3 908.8,508.2 911.2,506.2 913.7,504.1 916.1,502.0 918.5,500.0 921.0,498.0 923.4,496.0 925.9,494.0 928.3,492.0 930.8,490.0 933.2,488.1 935.7,486.1 938.1,484.2 940.5,482.3 943.0,480.4 945.4,478.5 947.9,476.6 950.3,474.8 952.8,472.9 955.2,471.1 957.7,469.3 960.1,467.5 962.5,465.7 965.0,463.9 967.4,462.2 969.9,460.4 972.3,458.7 974.8,457.0 977.2,455.3 979.7,453.6 982.1,451.9 984.6,450.2 987.0,448.6 989.4,446.9 991.9,445.3 994.3,443.7 996.8,442.1 999.2,440.5 1001.7,438.9 1004.1,437.3 1006.6,435.8 1009.0,434.2 1011.4,432.7 1013.9,431.2 1016.3,429.7 1018.8,428.2 1021.2,426.7 1023.7,425.2 1026.1,423.8 1028.6,422.3 1031.0,420.9 1033.4,419.4 1035.9,418.0 1038.3,416.6 1040.8,415.2 1043.2,413.9 1045.7,412.5 1048.1,411.1 1050.6,409.8 1053.0,408.4 1055.5,407.1 1057.9,405.8 1060.3,404.5 1062.8,403.2 1065.2,401.9 1067.7,400.6 1070.1,399.4 1072.6,398.1 1075.0,396.9 1077.5,395.7 1079.9,394.4 1082.3,393.2 1084.8,392.0 1087.2,390.8 1089.7,389.7 1092.1,388.5 1094.6,387.3 1097.0,386.2 1099.5,385.0 1101.9,383.9 1104.3,382.8 1106.8,381.7 1109.2,380.6 1111.7,379.5 1114.1,378.4 1116.6,377.3 1119.0,376.2 1121.5,375.2 1123.9,374.1 1126.3,373.1 1128.8,372.1 1131.2,371.0 1133.7,370.0 1136.1,369.0 1138.6,368.0 1141.0,367.0 1143.5,366.1 1145.9,365.1 1148.4,364.1 1150.8,363.2 1153.2,362.2 1155.7,361.3 1158.1,360.4 1160.6,359.4 1163.0,358.5 1165.5,357.6 1167.9,356.7 1170.4,355.9 1172.8,355.0 1175.2,354.1 1177.7,353.2 1180.1,352.4 1182.6,351.5 1185.0,350.7 1187.5,349.9 1189.9,349.0 1192.4,348.2 1194.8,347.4 1197.2,346.6 1199.7,345.8 1202.1,345.0 1204.6,344.2 1207.0,343.4 1209.5,342.7 1211.9,341.9 1214.4,341.2 1216.8,340.4 1219.3,339.7 1221.7,338.9 1224.1,338.2 1226.6,337.5 1229.0,336.8 1231.5,336.1 1233.9,335.4 1236.4,334.7 1238.8,334.0 1241.3,333.3 1243.7,332.6 1246.1,332.0 1248.6,331.3 1251.0,330.6 1253.5,330.0 1255.9,329.3 1258.4,328.7 1260.8,328.1 1263.3,327.4 1265.7,326.8 1268.1,326.2 1270.6,325.6 1273.0,325.0 1275.5,324.4 1277.9,323.8 1280.4,323.2 1282.8,322.6 1285.3,322.1 1287.7,321.5 1290.1,320.9 1292.6,320.4 1295.0,319.8 1297.5,319.3 1299.9,318.7 1302.4,318.2 1304.8,317.6 1307.3,317.1 1309.7,316.6 1312.2,316.1 1314.6,315.6 1317.0,315.1 1319.5,314.6 1321.9,314.1 1324.4,313.6 1326.8,313.1 1329.3,312.6 1331.7,312.1 1334.2,311.6 1336.6,311.2 1339.0,310.7 1341.5,310.2 1343.9,309.8 1346.4,309.3 1348.8,308.9 1351.3,308.4 1353.7,308.0 1356.2,307.6 1358.6,307.1 1361.0,306.7 1363.5,306.3 1365.9,305.9 1368.4,305.5 1370.8,305.1 1373.3,304.6 1375.7,304.2 1378.2,303.8 1380.6,303.5 1383.1,303.1 1385.5,302.7 1387.9,302.3 1390.4,301.9 1392.8,301.5 1395.3,301.2 1397.7,300.8 1400.2,300.5 1402.6,300.1 1405.1,299.7 1407.5,299.4 1409.9,299.0 1412.4,298.7 1414.8,298.4 1417.3,298.0 1419.7,297.7 1422.2,297.3 1424.6,297.0 1427.1,296.7 1429.5,296.4 1431.9,296.1 1434.4,295.7 1436.8,295.4 1439.3,295.1 1441.7,294.8 1444.2,294.5 1446.6,294.2 1449.1,293.9 1451.5,293.6 1454.0,293.3 1456.4,293.1 1458.8,292.8 1461.3,292.5 1463.7,292.2 1466.2,291.9 1468.6,291.7 1471.1,291.4 1473.5,291.1 1476.0,290.9 1478.4,290.6 1480.8,290.4 1483.3,290.1 1485.7,289.8 1488.2,289.6 1490.6,289.3 1493.1,289.1 1495.5,288.9 1498.0,288.6 1500.4,288.4 1502.8,288.1 1505.3,287.9 1507.7,287.7 1510.2,287.5 1512.6,287.2 1515.1,287.0 1517.5,286.8 1520.0,286.6 1522.4,286.4 1524.8,286.1 1527.3,285.9 1529.7,285.7 1532.2,285.5 1534.6,285.3 1537.1,285.1 1539.5,284.9 1542.0,284.7 1544.4,284.5 1546.9,284.3 1549.3,284.1 1551.7,283.9 1554.2,283.8 1556.6,283.6 1559.1,283.4 1561.5,283.2 1564.0,283.0 1566.4,282.9 1568.9,282.7 1571.3,282.5 1573.7,282.3 1576.2,282.2 1578.6,282.0 1581.1,281.8 1583.5,281.7 1586.0,281.5 1588.4,281.3 1590.9,281.2 1593.3,281.0 1595.7,280.9 1598.2,280.7 1600.6,280.6 1603.1,280.4 1605.5,280.3 1608.0,280.1 1610.4,280.0 1612.9,279.8 1615.3,279.7 1617.8,279.5 1620.2,279.4 1622.6,279.3 1625.1,279.1 1627.5,279.0 1630.0,278.9 1632.4,278.7 1634.9,278.6 1637.3,278.5 1639.8,278.3 1642.2,278.2 1644.6,278.1 1647.1,278.0 1649.5,277.9 1652.0,277.7 1654.4,277.6 1656.9,277.5 1659.3,277.4 1661.8,277.3 1664.2,277.2 1666.6,277.0 1669.1,276.9 1671.5,276.8 1674.0,276.7 1676.4,276.6 1678.9,276.5 1681.3,276.4 1683.8,276.3 1686.2,276.2 1688.6,276.1 1691.1,276.0 1693.5,275.9 1696.0,275.8 1698.4,275.7 1700.9,275.6 1703.3,275.5 1705.8,275.4 1708.2,275.3 1710.7,275.2 1713.1,275.1 1715.5,275.0 1718.0,275.0 1720.4,274.9 1722.9,274.8 1725.3,274.7 1727.8,274.6 1730.2,274.5 1732.7,274.4 1735.1,274.4 1737.5,274.3 1740.0,274.2 1742.4,274.1 1744.9,274.0 1747.3,274.0 1749.8,273.9 1752.2,273.8 1754.7,273.7 1757.1,273.7 1759.5,273.6 1762.0,273.5 1764.4,273.5 1766.9,273.4 1769.3,273.3 1771.8,273.2 1774.2,273.2 1776.7,273.1 1779.1,273.0 1781.6,273.0 1784.0,272.9 1786.4,272.9 1788.9,272.8 1791.3,272.7 1793.8,272.7 1796.2,272.6 1798.7,272.5 1801.1,272.5 1803.6,272.4 1806.0,272.4 1808.4,272.3 1810.9,272.3 1813.3,272.2 1815.8,272.1 1818.2,272.1 1820.7,272.0 1823.1,272.0 1825.6,271.9 1828.0,271.9 1830.4,271.8 1832.9,271.8 1835.3,271.7 1837.8,271.7 1840.2,271.6 1842.7,271.6 1845.1,271.5 1847.6,271.5 1850.0,271.4 1852.5,271.4 1854.9,271.3 1857.3,271.3 1859.8,271.3 1862.2,271.2 1864.7,271.2 1867.1,271.1 1869.6,271.1 1872.0,271.0 1874.5,271.0 1876.9,271.0 1879.3,270.9 1881.8,270.9 1884.2,270.8 1886.7,270.8 1889.1,270.8 1891.6,270.7 1894.0,270.7 1896.5,270.6 1898.9,270.6 1901.3,270.6 1903.8,270.5 1906.2,270.5 1908.7,270.5 1911.1,270.4 1913.6,270.4 1916.0,270.4 1918.5,270.3 1920.9,270.3 1923.3,270.3 1925.8,270.2 1928.2,270.2 1930.7,270.2 1933.1,270.1 1935.6,270.1 1938.0,270.1 1940.5,270.0 1942.9,270.0 1945.4,270.0 1947.8,270.0 1950.2,269.9 1952.7,269.9 1955.1,269.9 1957.6,269.9 1960.0,269.8 1962.5,269.8 1964.9,269.8 1967.4,269.7 1969.8,269.7 1972.2,269.7 1974.7,269.7 1977.1,269.6 1979.6,269.6 1982.0,269.6 1984.5,269.6 1986.9,269.5 1989.4,269.5 1991.8,269.5 1994.2,269.5 1996.7,269.5 1999.1,269.4 2001.6,269.4 2004.0,269.4 2006.5,269.4 2008.9,269.4 2011.4,269.3 2013.8,269.3" fill="none" stroke="#a00000" stroke-width="4.8" stroke-linejoin="round"/>
<rect x="237.10" y="1479.30" width="34.6" height="34.6" fill="none" stroke="#a00000" stroke-width="5.1"/>
<rect x="253.39" y="1476.86" width="34.6" height="34.6" fill="none" stroke="#a00000" stroke-width="5.1"/>
<rect x="269.68" y="1471.97" width="34.6" height="34.6" fill="none" stroke="#a00000" stroke-width="5.1"/>
<rect x="285.97" y="1441.08" width="34.6" height="34.6" fill="none" stroke="#a00000" stroke-width="5.1"/>
<rect x="334.84" y="1317.00" width="34.6" height="34.6" fill="none" stroke="#a00000" stroke-width="5.1"/>
<rect x="383.72" y="1240.19" width="34.6" height="34.6" fill="none" stroke="#a00000" stroke-width="5.1"/>
<rect x="432.59" y="1163.62" width="34.6" height="34.6" fill="none" stroke="#a00000" stroke-width="5.1"/>
<rect x="530.33" y="983.25" width="34.6" height="34.6" fill="none" stroke="#a00000" stroke-width="5.1"/>
<rect x="628.08" y="827.18" width="34.6" height="34.6" fill="none" stroke="#a00000" stroke-width="5.1"/>
<rect x="725.82" y="696.76" width="34.6" height="34.6" fill="none" stroke="#a00000" stroke-width="5.1"/>
<rect x="823.57" y="573.17" width="34.6" height="34.6" fill="none" stroke="#a00000" stroke-width="5.1"/>
<rect x="921.31" y="454.71" width="34.6" height="34.6" fill="none" stroke="#a00000" stroke-width="5.1"/>
<rect x="1019.06" y="371.31" width="34.6" height="34.6" fill="none" stroke="#a00000" stroke-width="5.1"/>
<rect x="1116.80" y="337.97" width="34.6" height="34.6" fill="none" stroke="#a00000" stroke-width="5.1"/>
<rect x="1214.55" y="295.10" width="34.6" height="34.6" fill="none" stroke="#a00000" stroke-width="5.1"/>
<rect x="1312.29" y="300.11" width="34.6" height="34.6" fill="none" stroke="#a00000" stroke-width="5.1"/>
<rect x="1410.04" y="272.75" width="34.6" height="34.6" fill="none" stroke="#a00000" stroke-width="5.1"/>
<rect x="1507.78" y="267.14" width="34.6" height="34.6" fill="none" stroke="#a00000" stroke-width="5.1"/>
<rect x="1605.53" y="264.69" width="34.6" height="34.6" fill="none" stroke="#a00000" stroke-width="5.1"/>
<rect x="1703.27" y="270.31" width="34.6" height="34.6" fill="none" stroke="#a00000" stroke-width="5.1"/>
<rect x="1801.02" y="265.06" width="34.6" height="34.6" fill="none" stroke="#a00000" stroke-width="5.1"/>
<rect x="1898.76" y="262.13" width="34.6" height="34.6" fill="none" stroke="#a00000" stroke-width="5.1"/>
<rect x="1996.51" y="259.32" width="34.6" height="34.6" fill="none" stroke="#a00000" stroke-width="5.1"/>
<polyline points="254.4,1496.6 255.2,1493.9 256.0,1491.2 256.8,1488.5 257.7,1485.7 258.5,1483.0 259.3,1480.2 260.1,1477.4 260.9,1474.7 261.7,1471.9 262.5,1469.1 263.4,1466.4 264.2,1463.6 265.0,1460.9 265.8,1458.1 266.6,1455.4 267.4,1452.6 268.2,1449.9 269.1,1447.1 269.9,1444.4 270.7,1441.7 271.5,1438.9 272.3,1436.2 273.1,1433.5 273.9,1430.8 274.8,1428.0 275.6,1425.3 276.4,1422.6 277.2,1419.9 278.0,1417.2 278.8,1414.5 279.7,1411.8 280.5,1409.2 281.3,1406.5 282.1,1403.8 282.9,1401.1 283.7,1398.5 284.5,1395.8 285.4,1393.2 286.2,1390.5 287.0,1387.9 287.8,1385.2 288.6,1382.6 289.4,1380.0 290.2,1377.3 291.1,1374.7 291.9,1372.1 292.7,1369.5 293.5,1366.9 294.3,1364.3 295.1,1361.7 295.9,1359.1 296.8,1356.5 297.6,1353.9 298.4,1351.4 299.2,1348.8 300.0,1346.2 300.8,1343.7 301.6,1341.1 302.5,1338.6 303.3,1336.0 304.9,1331.0 307.3,1323.4 309.8,1315.9 312.2,1308.4 314.7,1300.9 317.1,1293.6 319.6,1286.2 322.0,1278.9 324.5,1271.7 326.9,1264.5 329.3,1257.3 331.8,1250.2 334.2,1243.2 336.7,1236.1 339.1,1229.2 341.6,1222.3 344.0,1215.4 346.5,1208.5 348.9,1201.7 351.4,1195.0 353.8,1188.3 356.2,1181.6 358.7,1175.0 361.1,1168.5 363.6,1161.9 366.0,1155.5 368.5,1149.0 370.9,1142.6 373.4,1136.3 375.8,1130.0 378.2,1123.7 380.7,1117.5 383.1,1111.3 385.6,1105.1 388.0,1099.0 390.5,1093.0 392.9,1087.0 395.4,1081.0 397.8,1075.0 400.2,1069.2 402.7,1063.3 405.1,1057.5 407.6,1051.7 410.0,1046.0 412.5,1040.3 414.9,1034.6 417.4,1029.0 419.8,1023.4 422.3,1017.9 424.7,1012.3 427.1,1006.9 429.6,1001.4 432.0,996.1 434.5,990.7 436.9,985.4 439.4,980.1 441.8,974.8 444.3,969.6 446.7,964.5 449.1,959.3 451.6,954.2 454.0,949.1 456.5,944.1 458.9,939.1 461.4,934.1 463.8,929.2 466.3,924.3 468.7,919.5 471.1,914.6 473.6,909.8 476.0,905.1 478.5,900.3 480.9,895.6 483.4,891.0 485.8,886.3 488.3,881.7 490.7,877.2 493.1,872.6 495.6,868.1 498.0,863.7 500.5,859.2 502.9,854.8 505.4,850.4 507.8,846.1 510.3,841.8 512.7,837.5 515.2,833.2 517.6,829.0 520.0,824.8 522.5,820.6 524.9,816.5 527.4,812.4 529.8,808.3 532.3,804.2 534.7,800.2 537.2,796.2 539.6,792.2 542.0,788.3 544.5,784.4 546.9,780.5 549.4,776.6 551.8,772.8 554.3,769.0 556.7,765.2 559.2,761.5 561.6,757.8 564.0,754.1 566.5,750.4 568.9,746.7 571.4,743.1 573.8,739.5 576.3,735.9 578.7,732.4 581.2,728.9 583.6,725.4 586.1,721.9 588.5,718.5 590.9,715.0 593.4,711.6 595.8,708.3 598.3,704.9 600.7,701.6 603.2,698.3 605.6,695.0 608.1,691.8 610.5,688.5 612.9,685.3 615.4,682.1 617.8,679.0 620.3,675.8 622.7,672.7 625.2,669.6 627.6,666.5 630.1,663.5 632.5,660.4 634.9,657.4 637.4,654.4 639.8,651.5 642.3,648.5 644.7,645.6 647.2,642.7 649.6,639.8 652.1,636.9 654.5,634.1 657.0,631.3 659.4,628.4 661.8,625.7 664.3,622.9 666.7,620.2 669.2,617.4 671.6,614.7 674.1,612.0 676.5,609.4 679.0,606.7 681.4,604.1 683.8,601.5 686.3,598.9 688.7,596.3 691.2,593.7 693.6,591.2 696.1,588.7 698.5,586.2 701.0,583.7 703.4,581.2 705.8,578.8 708.3,576.4 710.7,573.9 713.2,571.5 715.6,569.2 718.1,566.8 720.5,564.5 723.0,562.1 725.4,559.8 727.8,557.5 730.3,555.2 732.7,553.0 735.2,550.7 737.6,548.5 740.1,546.3 742.5,544.1 745.0,541.9 747.4,539.7 749.9,537.6 752.3,535.4 754.7,533.3 757.2,531.2 759.6,529.1 762.1,527.0 764.5,525.0 767.0,522.9 769.4,520.9 771.9,518.9 774.3,516.9 776.7,514.9 779.2,512.9 781.6,510.9 784.1,509.0 786.5,507.1 789.0,505.1 791.4,503.2 793.9,501.3 796.3,499.5 798.7,497.6 801.2,495.8 803.6,493.9 806.1,492.1 808.5,490.3 811.0,488.5 813.4,486.7 815.9,484.9 818.3,483.2 820.8,481.4 823.2,479.7 825.6,478.0 828.1,476.2 830.5,474.5 833.0,472.9 835.4,471.2 837.9,469.5 840.3,467.9 842.8,466.2 845.2,464.6 847.6,463.0 850.1,461.4 852.5,459.8 855.0,458.2 857.4,456.6 859.9,455.1 862.3,453.5 864.8,452.0 867.2,450.5 869.6,449.0 872.1,447.5 874.5,446.0 877.0,444.5 879.4,443.0 881.9,441.6 884.3,440.1 886.8,438.7 889.2,437.3 891.6,435.8 894.1,434.4 896.5,433.0 899.0,431.6 901.4,430.3 903.9,428.9 906.3,427.5 908.8,426.2 911.2,424.9 913.7,423.5 916.1,422.2 918.5,420.9 921.0,419.6 923.4,418.3 925.9,417.0 928.3,415.7 930.8,414.5 933.2,413.2 935.7,412.0 938.1,410.7 940.5,409.5 943.0,408.3 945.4,407.1 947.9,405.9 950.3,404.7 952.8,403.5 955.2,402.3 957.7,401.2 960.1,400.0 962.5,398.9 965.0,397.7 967.4,396.6 969.9,395.5 972.3,394.4 974.8,393.2 977.2,392.1 979.7,391.1 982.1,390.0 984.6,388.9 987.0,387.8 989.4,386.8 991.9,385.7 994.3,384.7 996.8,383.6 999.2,382.6 1001.7,381.6 1004.1,380.5 1006.6,379.5 1009.0,378.5 1011.4,377.5 1013.9,376.6 1016.3,375.6 1018.8,374.6 1021.2,373.6 1023.7,372.7 1026.1,371.7 1028.6,370.8 1031.0,369.8 1033.4,368.9 1035.9,368.0 1038.3,367.1 1040.8,366.2 1043.2,365.2 1045.7,364.3 1048.1,363.5 1050.6,362.6 1053.0,361.7 1055.5,360.8 1057.9,360.0 1060.3,359.1 1062.8,358.2 1065.2,357.4 1067.7,356.6 1070.1,355.7 1072.6,354.9 1075.0,354.1 1077.5,353.2 1079.9,352.4 1082.3,351.6 1084.8,350.8 1087.2,350.0 1089.7,349.2 1092.1,348.5 1094.6,347.7 1097.0,346.9 1099.5,346.1 1101.9,345.4 1104.3,344.6 1106.8,343.9 1109.2,343.1 1111.7,342.4 1114.1,341.7 1116.6,340.9 1119.0,340.2 1121.5,339.5 1123.9,338.8 1126.3,338.1 1128.8,337.4 1131.2,336.7 1133.7,336.0 1136.1,335.3 1138.6,334.6 1141.0,334.0 1143.5,333.3 1145.9,332.6 1148.4,332.0 1150.8,331.3 1153.2,330.6 1155.7,330.0 1158.1,329.4 1160.6,328.7 1163.0,328.1 1165.5,327.5 1167.9,326.8 1170.4,326.2 1172.8,325.6 1175.2,325.0 1177.7,324.4 1180.1,323.8 1182.6,323.2 1185.0,322.6 1187.5,322.0 1189.9,321.4 1192.4,320.8 1194.8,320.2 1197.2,319.7 1199.7,319.1 1202.1,318.5 1204.6,318.0 1207.0,317.4 1209.5,316.9 1211.9,316.3 1214.4,315.8 1216.8,315.2 1219.3,314.7 1221.7,314.2 1224.1,313.7 1226.6,313.1 1229.0,312.6 1231.5,312.1 1233.9,311.6 1236.4,311.1 1238.8,310.6 1241.3,310.1 1243.7,309.6 1246.1,309.1 1248.6,308.6 1251.0,308.1 1253.5,307.6 1255.9,307.1 1258.4,306.7 1260.8,306.2 1263.3,305.7 1265.7,305.2 1268.1,304.8 1270.6,304.3 1273.0,303.9 1275.5,303.4 1277.9,303.0 1280.4,302.5 1282.8,302.1 1285.3,301.6 1287.7,301.2 1290.1,300.8 1292.6,300.3 1295.0,299.9 1297.5,299.5 1299.9,299.1 1302.4,298.6 1304.8,298.2 1307.3,297.8 1309.7,297.4 1312.2,297.0 1314.6,296.6 1317.0,296.2 1319.5,295.8 1321.9,295.4 1324.4,295.0 1326.8,294.6 1329.3,294.2 1331.7,293.9 1334.2,293.5 1336.6,293.1 1339.0,292.7 1341.5,292.4 1343.9,292.0 1346.4,291.6 1348.8,291.3 1351.3,290.9 1353.7,290.5 1356.2,290.2 1358.6,289.8 1361.0,289.5 1363.5,289.1 1365.9,288.8 1368.4,288.4 1370.8,288.1 1373.3,287.8 1375.7,287.4 1378.2,287.1 1380.6,286.8 1383.1,286.4 1385.5,286.1 1387.9,285.8 1390.4,285.5 1392.8,285.1 1395.3,284.8 1397.7,284.5 1400.2,284.2 1402.6,283.9 1405.1,283.6 1407.5,283.3 1409.9,283.0 1412.4,282.7 1414.8,282.4 1417.3,282.1 1419.7,281.8 1422.2,281.5 1424.6,281.2 1427.1,280.9 1429.5,280.6 1431.9,280.4 1434.4,280.1 1436.8,279.8 1439.3,279.5 1441.7,279.2 1444.2,279.0 1446.6,278.7 1449.1,278.4 1451.5,278.2 1454.0,277.9 1456.4,277.6 1458.8,277.4 1461.3,277.1 1463.7,276.8 1466.2,276.6 1468.6,276.3 1471.1,276.1 1473.5,275.8 1476.0,275.6 1478.4,275.3 1480.8,275.1 1483.3,274.9 1485.7,274.6 1488.2,274.4 1490.6,274.1 1493.1,273.9 1495.5,273.7 1498.0,273.4 1500.4,273.2 1502.8,273.0 1505.3,272.7 1507.7,272.5 1510.2,272.3 1512.6,272.1 1515.1,271.9 1517.5,271.6 1520.0,271.4 1522.4,271.2 1524.8,271.0 1527.3,270.8 1529.7,270.6 1532.2,270.4 1534.6,270.1 1537.1,269.9 1539.5,269.7 1542.0,269.5 1544.4,269.3 1546.9,269.1 1549.3,268.9 1551.7,268.7 1554.2,268.5 1556.6,268.3 1559.1,268.1 1561.5,268.0 1564.0,267.8 1566.4,267.6 1568.9,267.4 1571.3,267.2 1573.7,267.0 1576.2,266.8 1578.6,266.6 1581.1,266.5 1583.5,266.3 1586.0,266.1 1588.4,265.9 1590.9,265.8 1593.3,265.6 1595.7,265.4 1598.2,265.2 1600.6,265.1 1603.1,264.9 1605.5,264.7 1608.0,264.6 1610.4,264.4 1612.9,264.2 1615.3,264.1 1617.8,263.9 1620.2,263.7 1622.6,263.6 1625.1,263.4 1627.5,263.3 1630.0,263.1 1632.4,263.0 1634.9,262.8 1637.3,262.6 1639.8,262.5 1642.2,262.3 1644.6,262.2 1647.1,262.0 1649.5,261.9 1652.0,261.8 1654.4,261.6 1656.9,261.5 1659.3,261.3 1661.8,261.2 1664.2,261.0 1666.6,260.9 1669.1,260.8 1671.5,260.6 1674.0,260.5 1676.4,260.3 1678.9,260.2 1681.3,260.1 1683.8,259.9 1686.2,259.8 1688.6,259.7 1691.1,259.5 1693.5,259.4 1696.0,259.3 1698.4,259.2 1700.9,259.0 1703.3,258.9 1705.8,258.8 1708.2,258.7 1710.7,258.5 1713.1,258.4 1715.5,258.3 1718.0,258.2 1720.4,258.1 1722.9,257.9 1725.3,257.8 1727.8,257.7 1730.2,257.6 1732.7,257.5 1735.1,257.4 1737.5,257.3 1740.0,257.1 1742.4,257.0 1744.9,256.9 1747.3,256.8 1749.8,256.7 1752.2,256.6 1754.7,256.5 1757.1,256.4 1759.5,256.3 1762.0,256.2 1764.4,256.1 1766.9,256.0 1769.3,255.9 1771.8,255.8 1774.2,255.7 1776.7,255.6 1779.1,255.5 1781.6,255.4 1784.0,255.3 1786.4,255.2 1788.9,255.1 1791.3,255.0 1793.8,254.9 1796.2,254.8 1798.7,254.7 1801.1,254.6 1803.6,254.5 1806.0,254.4 1808.4,254.3 1810.9,254.2 1813.3,254.1 1815.8,254.0 1818.2,254.0 1820.7,253.9 1823.1,253.8 1825.6,253.7 1828.0,253.6 1830.4,253.5 1832.9,253.4 1835.3,253.3 1837.8,253.3 1840.2,253.2 1842.7,253.1 1845.1,253.0 1847.6,252.9 1850.0,252.9 1852.5,252.8 1854.9,252.7 1857.3,252.6 1859.8,252.5 1862.2,252.5 1864.7,252.4 1867.1,252.3 1869.6,252.2 1872.0,252.2 1874.5,252.1 1876.9,252.0 1879.3,251.9 1881.8,251.9 1884.2,251.8 1886.7,251.7 1889.1,251.6 1891.6,251.6 1894.0,251.5 1896.5,251.4 1898.9,251.4 1901.3,251.3 1903.8,251.2 1906.2,251.2 1908.7,251.1 1911.1,251.0 1913.6,251.0 1916.0,250.9 1918.5,250.8 1920.9,250.8 1923.3,250.7 1925.8,250.6 1928.2,250.6 1930.7,250.5 1933.1,250.4 1935.6,250.4 1938.0,250.3 1940.5,250.3 1942.9,250.2 1945.4,250.1 1947.8,250.1 1950.2,250.0 1952.7,250.0 1955.1,249.9 1957.6,249.8 1960.0,249.8 1962.5,249.7 1964.9,249.7 1967.4,249.6 1969.8,249.6 1972.2,249.5 1974.7,249.4 1977.1,249.4 1979.6,249.3 1982.0,249.3 1984.5,249.2 1986.9,249.2 1989.4,249.1 1991.8,249.1 1994.2,249.0 1996.7,249.0 1999.1,248.9 2001.6,248.9 2004.0,248.8 2006.5,248.8 2008.9,248.7 2011.4,248.7 2013.8,248.6" fill="none" stroke="#0000ff" stroke-width="4.8" stroke-linejoin="round"/>
<circle cx="254.40" cy="1496.60" r="17.1" fill="none" stroke="#0000ff" stroke-width="5.3"/>
<circle cx="270.69" cy="1368.01" r="17.1" fill="none" stroke="#0000ff" stroke-width="5.3"/>
<circle cx="286.98" cy="1302.92" r="17.1" fill="none" stroke="#0000ff" stroke-width="5.3"/>
<circle cx="303.27" cy="1259.81" r="17.1" fill="none" stroke="#0000ff" stroke-width="5.3"/>
<circle cx="352.14" cy="1158.21" r="17.1" fill="none" stroke="#0000ff" stroke-width="5.3"/>
<circle cx="401.02" cy="1084.93" r="17.1" fill="none" stroke="#0000ff" stroke-width="5.3"/>
<circle cx="449.89" cy="1023.26" r="17.1" fill="none" stroke="#0000ff" stroke-width="5.3"/>
<circle cx="547.63" cy="854.37" r="17.1" fill="none" stroke="#0000ff" stroke-width="5.3"/>
<circle cx="645.38" cy="716.62" r="17.1" fill="none" stroke="#0000ff" stroke-width="5.3"/>
<circle cx="743.12" cy="538.20" r="17.1" fill="none" stroke="#0000ff" stroke-width="5.3"/>
<circle cx="840.87" cy="416.45" r="17.1" fill="none" stroke="#0000ff" stroke-width="5.3"/>
<circle cx="938.61" cy="343.67" r="17.1" fill="none" stroke="#0000ff" stroke-width="5.3"/>
<circle cx="1036.36" cy="309.23" r="17.1" fill="none" stroke="#0000ff" stroke-width="5.3"/>
<circle cx="1134.10" cy="312.65" r="17.1" fill="none" stroke="#0000ff" stroke-width="5.3"/>
<circle cx="1231.85" cy="279.19" r="17.1" fill="none" stroke="#0000ff" stroke-width="5.3"/>
<circle cx="1329.59" cy="279.19" r="17.1" fill="none" stroke="#0000ff" stroke-width="5.3"/>
<circle cx="1427.34" cy="277.84" r="17.1" fill="none" stroke="#0000ff" stroke-width="5.3"/>
<circle cx="1525.08" cy="278.45" r="17.1" fill="none" stroke="#0000ff" stroke-width="5.3"/>
<circle cx="1622.83" cy="278.45" r="17.1" fill="none" stroke="#0000ff" stroke-width="5.3"/>
<circle cx="1720.57" cy="279.19" r="17.1" fill="none" stroke="#0000ff" stroke-width="5.3"/>
<circle cx="1818.32" cy="278.45" r="17.1" fill="none" stroke="#0000ff" stroke-width="5.3"/>
<circle cx="1916.06" cy="278.45" r="17.1" fill="none" stroke="#0000ff" stroke-width="5.3"/>
<circle cx="2013.81" cy="277.23" r="17.1" fill="none" stroke="#0000ff" stroke-width="5.3"/>
<rect x="1683.2" y="967.75" width="59.5" height="5.3" fill="#0000ff"/>
<circle cx="1713.20" cy="970.40" r="17.1" fill="none" stroke="#0000ff" stroke-width="5.3"/>
<text transform="translate(1778.62 986.10) scale(0.9631 1)" font-size="48.50" font-weight="normal">Without coating</text>
<rect x="1683.2" y="1044.15" width="59.5" height="5.3" fill="#a00000"/>
<rect x="1695.90" y="1029.50" width="34.6" height="34.6" fill="none" stroke="#a00000" stroke-width="5.1"/>
<text transform="translate(1777.02 1062.90) scale(1.0555 1)" font-size="48.50" font-weight="normal">PVA I</text>
<rect x="1683.2" y="1120.35" width="59.5" height="5.3" fill="#000000"/>
<path d="M1713.20 1101.50L1733.45 1142.00L1692.95 1142.00ZM1701.04 1137.00L1725.36 1137.00L1713.20 1112.68Z" fill="#000000" fill-rule="evenodd"/>
<text transform="translate(1777.06 1139.30) scale(1.0427 1)" font-size="48.50" font-weight="normal">PVA II</text>
<rect x="1683.2" y="1196.85" width="59.5" height="5.3" fill="#008000"/>
<path d="M1713.20 1220.90L1692.90 1180.30L1733.50 1180.30ZM1725.09 1185.50L1701.31 1185.50L1713.20 1209.27Z" fill="#008000" fill-rule="evenodd"/>
<text transform="translate(1777.08 1215.90) scale(1.0380 1)" font-size="48.50" font-weight="normal">PVA III</text>
<rect x="1683.2" y="1272.85" width="59.5" height="5.3" fill="#000000"/>
<text transform="translate(1778.19 1292.20) scale(0.9680 1)" font-size="48.50" font-weight="normal">Weibull</text>
</svg>
</body></html>
